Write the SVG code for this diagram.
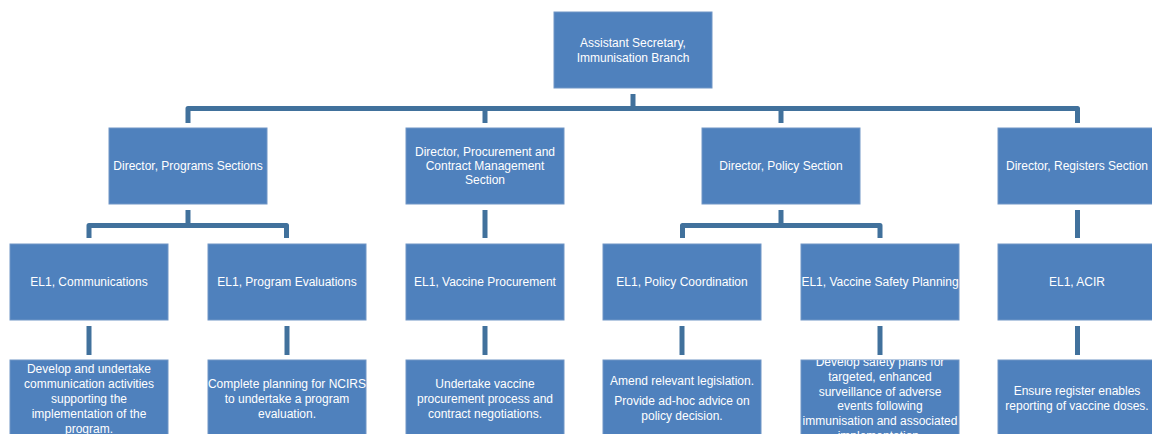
<svg xmlns="http://www.w3.org/2000/svg" width="1152" height="434" viewBox="0 0 1152 434">
<style>
.box{fill:#4F81BD;stroke:#7096C6;stroke-width:1}
.t{font-family:"Liberation Sans",Arial,sans-serif;font-size:12px;fill:#FFFFFF;text-anchor:middle}
.c{fill:none;stroke:#41719C;stroke-width:5;stroke-linejoin:round}
</style>
<defs>
<clipPath id="clipVS"><rect x="801" y="360" width="158" height="76"/></clipPath>
</defs>
<rect width="1152" height="434" fill="#FFFFFF"/>
<g id="connectors">
<path class="c" d="M633,94 V108.5"/>
<path class="c" d="M188,123 V108.5 H1077.5 V123"/>
<path class="c" d="M485,108.5 V123"/>
<path class="c" d="M781,108.5 V123"/>
<path class="c" d="M188,210 V225.5"/>
<path class="c" d="M89,238 V225.5 H286.5 V238"/>
<path class="c" d="M485,210 V238"/>
<path class="c" d="M781,210 V225.5"/>
<path class="c" d="M682.5,238 V225.5 H880 V238"/>
<path class="c" d="M1077.5,210 V238"/>
<path class="c" d="M89,326 V355"/>
<path class="c" d="M287,326 V355"/>
<path class="c" d="M485,326 V355"/>
<path class="c" d="M682,326 V355"/>
<path class="c" d="M880,326 V355"/>
<path class="c" d="M1077.5,326 V355"/>
</g>
<g id="n-asst">
<rect class="box" x="554" y="12" width="158" height="76"/>
<text class="t" x="633" y="47">Assistant Secretary,</text>
<text class="t" x="633" y="61.5">Immunisation Branch</text>
</g>
<g id="n-dir-programs">
<rect class="box" x="109" y="128" width="158" height="76"/>
<text class="t" x="188" y="170">Director, Programs Sections</text>
</g>
<g id="n-dir-procurement">
<rect class="box" x="406" y="128" width="158" height="76"/>
<text class="t" x="485" y="155.7">Director, Procurement and</text>
<text class="t" x="485" y="170">Contract Management</text>
<text class="t" x="485" y="184.3">Section</text>
</g>
<g id="n-dir-policy">
<rect class="box" x="702" y="128" width="158" height="76"/>
<text class="t" x="781" y="170">Director, Policy Section</text>
</g>
<g id="n-dir-registers">
<rect class="box" x="998" y="128" width="158" height="76"/>
<text class="t" x="1077" y="170">Director, Registers Section</text>
</g>
<g id="n-el1-comms">
<rect class="box" x="10" y="244" width="158" height="76"/>
<text class="t" x="89" y="286.3">EL1, Communications</text>
</g>
<g id="n-el1-progeval">
<rect class="box" x="208" y="244" width="158" height="76"/>
<text class="t" x="287" y="286.3">EL1, Program Evaluations</text>
</g>
<g id="n-el1-vacproc">
<rect class="box" x="406" y="244" width="158" height="76"/>
<text class="t" x="485" y="286.3">EL1, Vaccine Procurement</text>
</g>
<g id="n-el1-polcoord">
<rect class="box" x="603" y="244" width="158" height="76"/>
<text class="t" x="682" y="286.3">EL1, Policy Coordination</text>
</g>
<g id="n-el1-vacsafety">
<rect class="box" x="801" y="244" width="158" height="76"/>
<text class="t" x="880" y="286.3">EL1, Vaccine Safety Planning</text>
</g>
<g id="n-el1-acir">
<rect class="box" x="998" y="244" width="158" height="76"/>
<text class="t" x="1077" y="286.3">EL1, ACIR</text>
</g>
<g id="n-task-comms">
<rect class="box" x="10" y="360" width="158" height="76"/>
<text class="t" x="89" y="373">Develop and undertake</text>
<text class="t" x="89" y="388">communication activities</text>
<text class="t" x="89" y="403">supporting the</text>
<text class="t" x="89" y="418">implementation of the</text>
<text class="t" x="89" y="433">program.</text>
</g>
<g id="n-task-progeval">
<rect class="box" x="208" y="360" width="158" height="76"/>
<text class="t" x="287" y="388">Complete planning for NCIRS</text>
<text class="t" x="287" y="403">to undertake a program</text>
<text class="t" x="287" y="418">evaluation.</text>
</g>
<g id="n-task-vacproc">
<rect class="box" x="406" y="360" width="158" height="76"/>
<text class="t" x="485" y="388">Undertake vaccine</text>
<text class="t" x="485" y="403">procurement process and</text>
<text class="t" x="485" y="418">contract negotiations.</text>
</g>
<g id="n-task-polcoord">
<rect class="box" x="603" y="360" width="158" height="76"/>
<text class="t" x="682" y="384.7">Amend relevant legislation.</text>
<text class="t" x="682" y="405">Provide ad-hoc advice on</text>
<text class="t" x="682" y="419.7">policy decision.</text>
</g>
<g id="n-task-vacsafety">
<rect class="box" x="801" y="360" width="158" height="76"/>
<g clip-path="url(#clipVS)">
<text class="t" x="880" y="366.3">Develop safety plans for</text>
<text class="t" x="880" y="381">targeted, enhanced</text>
<text class="t" x="880" y="395.7">surveillance of adverse</text>
<text class="t" x="880" y="410.3">events following</text>
<text class="t" x="880" y="425">immunisation and associated</text>
<text class="t" x="880" y="439.7">implementation.</text>
</g>
</g>
<g id="n-task-acir">
<rect class="box" x="998" y="360" width="158" height="76"/>
<text class="t" x="1077" y="395">Ensure register enables</text>
<text class="t" x="1077" y="409.7">reporting of vaccine doses.</text>
</g>
</svg>
